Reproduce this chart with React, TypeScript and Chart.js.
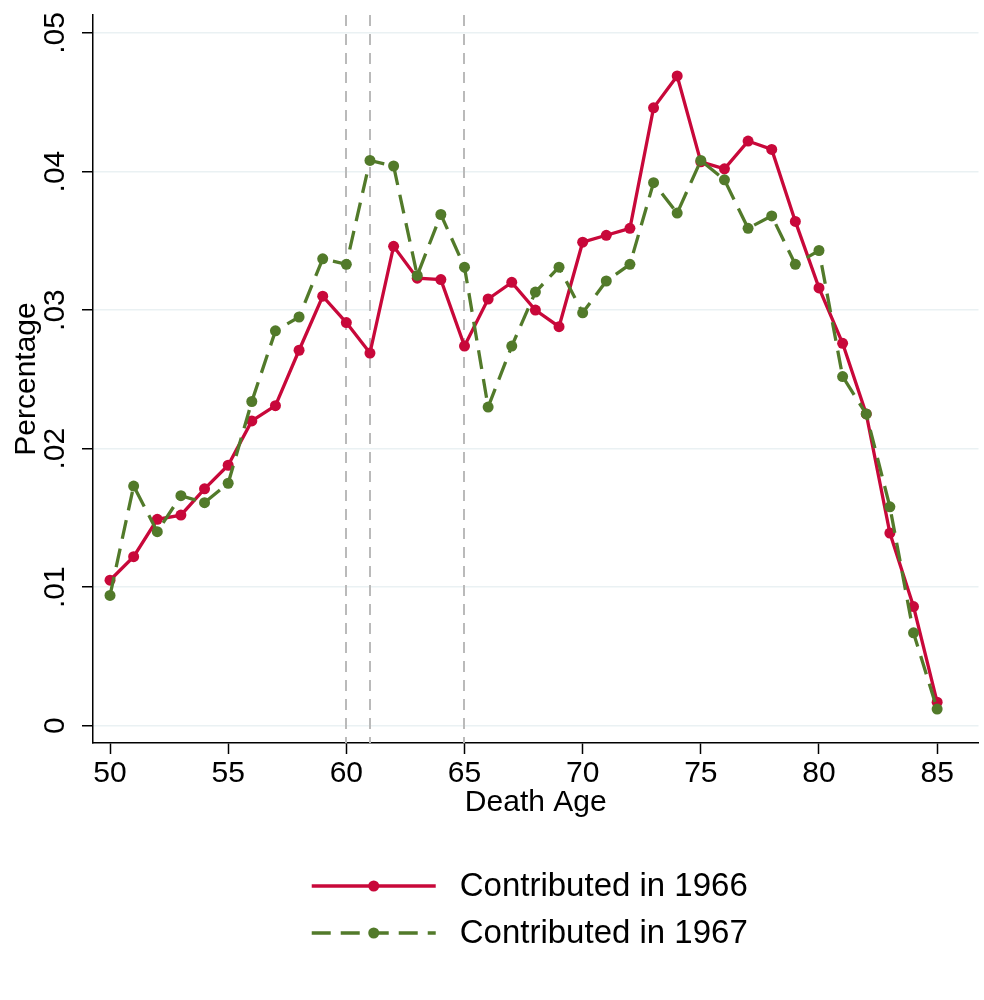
import React, { useEffect, useRef } from "react";
import { Chart, registerables } from "chart.js";

Chart.register(...registerables);

// Death ages on the horizontal axis
const deathAges = [
  50, 51, 52, 53, 54, 55, 56, 57, 58, 59, 60, 61, 62, 63, 64, 65, 66, 67,
  68, 69, 70, 71, 72, 73, 74, 75, 76, 77, 78, 79, 80, 81, 82, 83, 84, 85,
];

// Share of deaths at each age, contributors of 1966
const share1966 = [
  0.0105, 0.0122, 0.0149, 0.0152, 0.0171, 0.0188, 0.022, 0.0231, 0.0271,
  0.031, 0.0291, 0.0269, 0.0346, 0.0323, 0.0322, 0.0274, 0.0308, 0.032,
  0.03, 0.0288, 0.0349, 0.0354, 0.0359, 0.0446, 0.0469, 0.0407, 0.0402,
  0.0422, 0.0416, 0.0364, 0.0316, 0.0276, 0.0225, 0.0139, 0.0086, 0.0017,
];

// Share of deaths at each age, contributors of 1967
const share1967 = [
  0.0094, 0.0173, 0.014, 0.0166, 0.0161, 0.0175, 0.0234, 0.0285, 0.0295,
  0.0337, 0.0333, 0.0408, 0.0404, 0.0325, 0.0369, 0.0331, 0.023, 0.0274,
  0.0313, 0.0331, 0.0298, 0.0321, 0.0333, 0.0392, 0.037, 0.0408, 0.0394,
  0.0359, 0.0368, 0.0333, 0.0343, 0.0252, 0.0225, 0.0158, 0.0067, 0.0012,
];

const seriesLabels = ["Contributed in 1966", "Contributed in 1967"];

// Reference ages marked with dashed vertical lines
const referenceAges = [60, 61, 65];

const xTickValues = [50, 55, 60, 65, 70, 75, 80, 85];
const yTickValues = [0, 0.01, 0.02, 0.03, 0.04, 0.05];
const yTickLabels = ["0", ".01", ".02", ".03", ".04", ".05"];

const RED = "rgb(200, 8, 58)";
const GREEN = "rgb(82, 122, 42)";
const FONT = "'Liberation Sans', Arial, sans-serif";
const GREEN_DASH = [19, 10];

const referenceLinesPlugin = {
  id: "referenceLines",
  beforeDatasetsDraw(chart: any) {
    const { ctx, chartArea, scales } = chart;
    ctx.save();
    ctx.strokeStyle = "rgb(186, 186, 186)";
    ctx.lineWidth = 2;
    ctx.setLineDash([11, 8]);
    for (const age of referenceAges) {
      const x = Math.round(scales.x.getPixelForValue(age));
      ctx.beginPath();
      ctx.moveTo(x, chartArea.top);
      ctx.lineTo(x, chartArea.bottom);
      ctx.stroke();
    }
    ctx.restore();
  },
};

// Vertical y tick labels
const rotatedYTicksPlugin = {
  id: "rotatedYTicks",
  afterDraw(chart: any) {
    const { ctx, scales } = chart;
    const y = scales.y;
    ctx.save();
    ctx.fillStyle = "#000";
    ctx.font = `30px ${FONT}`;
    ctx.textAlign = "center";
    ctx.textBaseline = "middle";
    y.ticks.forEach((t: any) => {
      const py = y.getPixelForValue(t.value);
      const idx = yTickValues.indexOf(t.value);
      ctx.save();
      ctx.translate(56, py);
      ctx.rotate(-Math.PI / 2);
      ctx.fillText(idx >= 0 ? yTickLabels[idx] : String(t.value), 0, 0);
      ctx.restore();
    });
    ctx.restore();
  },
};

const lineLegendPlugin = {
  id: "lineLegend",
  afterDraw(chart: any) {
    const { ctx, chartArea } = chart;
    const datasets = chart.data.datasets;
    ctx.save();
    ctx.font = `33px ${FONT}`;
    const textW = Math.max(...datasets.map((d: any) => ctx.measureText(d.label).width));
    const sampleW = 124;
    const gap = 24;
    const totalW = sampleW + gap + textW;
    const startX = (chartArea.left + chartArea.right) / 2 - 6 - totalW / 2;
    const rowY = [886, 933];
    datasets.forEach((d: any, i: number) => {
      const yy = rowY[i];
      ctx.strokeStyle = d.borderColor;
      ctx.lineWidth = d.borderWidth;
      ctx.setLineDash(d.borderDash || []);
      ctx.beginPath();
      ctx.moveTo(startX, yy);
      ctx.lineTo(startX + sampleW, yy);
      ctx.stroke();
      ctx.setLineDash([]);
      ctx.fillStyle = d.pointBackgroundColor;
      ctx.beginPath();
      ctx.arc(startX + sampleW / 2, yy, d.pointRadius, 0, Math.PI * 2);
      ctx.fill();
      ctx.fillStyle = "#000";
      ctx.textAlign = "left";
      ctx.textBaseline = "middle";
      ctx.fillText(d.label, startX + sampleW + gap, yy + 1);
    });
    ctx.restore();
  },
};

export default function App() {
  const canvasRef = useRef<HTMLCanvasElement | null>(null);

  useEffect(() => {
    if (!canvasRef.current) return;
    const toPoints = (vals: number[]) => deathAges.map((age, i) => ({ x: age, y: vals[i] }));

    const chart = new Chart(canvasRef.current, {
      type: "line",
      data: {
        datasets: [
          {
            label: seriesLabels[0],
            data: toPoints(share1966),
            borderColor: RED,
            backgroundColor: RED,
            pointBackgroundColor: RED,
            borderWidth: 3.3,
            pointRadius: 5.5,
            pointBorderWidth: 0,
            tension: 0,
            order: 1,
          },
          {
            label: seriesLabels[1],
            data: toPoints(share1967),
            borderColor: GREEN,
            backgroundColor: GREEN,
            pointBackgroundColor: GREEN,
            borderWidth: 3.3,
            borderDash: GREEN_DASH,
            pointRadius: 5.5,
            pointBorderWidth: 0,
            tension: 0,
            order: 0,
          },
        ],
      },
      options: {
        responsive: false,
        animation: false,
        layout: { padding: { top: 15, right: 3, bottom: 179, left: 0 } },
        plugins: {
          legend: { display: false },
          tooltip: { enabled: false },
        },
        scales: {
          x: {
            type: "linear",
            min: 49.28,
            max: 86.75,
            afterBuildTicks: (scale: any) => {
              scale.ticks = xTickValues.map((v) => ({ value: v }));
            },
            afterFit: (scale: any) => {
              scale.height = 78;
              scale.paddingLeft = 0;
              scale.paddingRight = 0;
            },
            border: { display: true, color: "#000", width: 1.5 },
            grid: {
              drawOnChartArea: false,
              drawTicks: true,
              tickLength: 11,
              tickColor: "#000",
              tickWidth: 1.5,
            },
            ticks: {
              color: "#000",
              font: { family: FONT, size: 30 },
              padding: 2,
              maxRotation: 0,
              autoSkip: false,
            },
            title: {
              display: true,
              text: "Death Age",
              color: "#000",
              font: { family: FONT, size: 30 },
              padding: 0,
            },
          },
          y: {
            type: "linear",
            min: -0.00125,
            max: 0.0513,
            afterBuildTicks: (scale: any) => {
              scale.ticks = yTickValues.map((v) => ({ value: v }));
            },
            afterFit: (scale: any) => {
              scale.width = 93;
              scale.paddingTop = 0;
              scale.paddingBottom = 0;
            },
            border: { display: true, color: "#000", width: 1.5 },
            grid: {
              color: "rgb(234, 241, 243)",
              lineWidth: 1.5,
              drawTicks: true,
              tickLength: 11,
              tickColor: "#000",
              tickWidth: 1.5,
            },
            ticks: {
              color: "transparent",
              font: { family: FONT, size: 1 },
              autoSkip: false,
            },
            title: {
              display: true,
              text: "Percentage",
              color: "#000",
              font: { family: FONT, size: 30 },
              padding: { top: 9, bottom: 0 },
            },
          },
        },
      },
      plugins: [referenceLinesPlugin, rotatedYTicksPlugin, lineLegendPlugin],
    } as any);

    return () => chart.destroy();
  }, []);

  return (
    <div style={{ position: "absolute", left: 0, top: 0, width: 984, height: 1000, background: "#fff" }}>
      <canvas ref={canvasRef} width={984} height={1000} style={{ display: "block" }} />
    </div>
  );
}
